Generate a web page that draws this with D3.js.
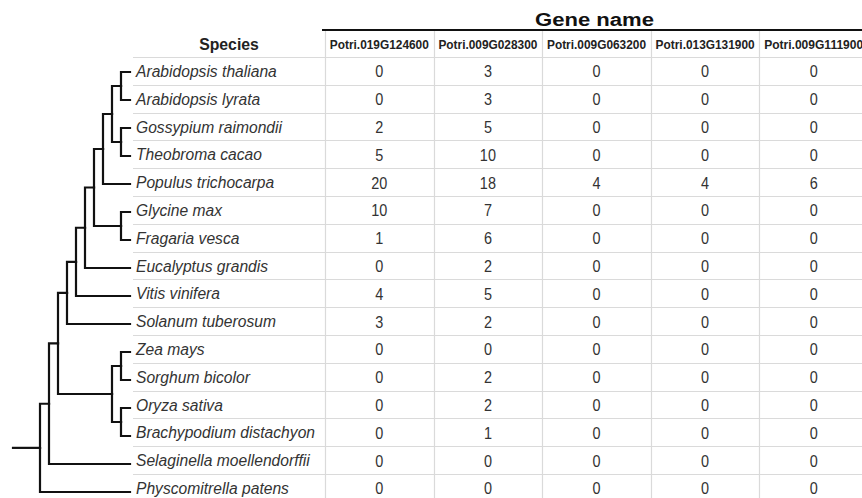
<!DOCTYPE html>
<html>
<head>
<meta charset="utf-8">
<script src="https://cdn.jsdelivr.net/npm/d3@7"></script>
<style>
  html, body { margin: 0; padding: 0; background: #fff; }
  svg { display: block; }
</style>
</head>
<body>
<svg id="chart" width="862" height="498"></svg>
<script>
// ---------------- DATA ----------------
const species = [
  "Arabidopsis thaliana", "Arabidopsis lyrata", "Gossypium raimondii", "Theobroma cacao",
  "Populus trichocarpa", "Glycine max", "Fragaria vesca", "Eucalyptus grandis",
  "Vitis vinifera", "Solanum tuberosum", "Zea mays", "Sorghum bicolor",
  "Oryza sativa", "Brachypodium distachyon", "Selaginella moellendorffii", "Physcomitrella patens"
];
const genes = ["Potri.019G124600", "Potri.009G028300", "Potri.009G063200", "Potri.013G131900", "Potri.009G111900"];
const counts019G124600 = [0, 0, 2, 5, 20, 10, 1, 0, 4, 3, 0, 0, 0, 0, 0, 0];
const counts009G028300 = [3, 3, 5, 10, 18, 7, 6, 2, 5, 2, 0, 2, 2, 1, 0, 0];
const counts009G063200 = [0, 0, 0, 0, 4, 0, 0, 0, 0, 0, 0, 0, 0, 0, 0, 0];
const counts013G131900 = [0, 0, 0, 0, 4, 0, 0, 0, 0, 0, 0, 0, 0, 0, 0, 0];
const counts009G111900 = [0, 0, 0, 0, 6, 0, 0, 0, 0, 0, 0, 0, 0, 0, 0, 0];
const geneCounts = [counts019G124600, counts009G028300, counts009G063200, counts013G131900, counts009G111900];
const titleText = "Gene name";
const speciesHeader = "Species";

// Tree topology (cladogram)
const rosids = [["Arabidopsis thaliana", "Arabidopsis lyrata"], ["Gossypium raimondii", "Theobroma cacao"]];
const monocots = [["Zea mays", "Sorghum bicolor"], ["Oryza sativa", "Brachypodium distachyon"]];
const treeTopology =
  [[[[[[[[rosids, "Populus trichocarpa"], ["Glycine max", "Fragaria vesca"]],
        "Eucalyptus grandis"], "Vitis vinifera"], "Solanum tuberosum"], monocots],
    "Selaginella moellendorffii"], "Physcomitrella patens"];

// ---------------- LAYOUT ----------------
const svg = d3.select("#chart");
const tableTop = 57;         // top of first data row
const rowH = 27.8;
const rowY = d3.scaleLinear().domain([0, species.length]).range([tableTop, tableTop + rowH * species.length]);
const colX = d3.scaleBand().domain(genes).range([325, 868]);
const lineLeft = 133;
const FONT = "Liberation Sans, Arial, sans-serif";
const grid = "#dadada";

// horizontal row lines
const hLines = d3.range(0, species.length);
svg.append("g").selectAll("line").data(hLines).join("line")
  .attr("x1", lineLeft).attr("x2", 862)
  .attr("y1", d => Math.round(rowY(d)) + 0.5).attr("y2", d => Math.round(rowY(d)) + 0.5)
  .attr("stroke", grid).attr("stroke-width", 1.2);

// vertical column separators
const vBounds = genes.map(g => colX(g));
svg.append("g").selectAll("line").data(vBounds).join("line")
  .attr("x1", d => Math.round(d) + 0.5).attr("x2", d => Math.round(d) + 0.5)
  .attr("y1", 31).attr("y2", 498)
  .attr("stroke", grid).attr("stroke-width", 1.2);

// Header: Gene name
svg.append("text")
  .attr("x", 594.5).attr("y", 26)
  .attr("text-anchor", "middle")
  .attr("font-family", FONT)
  .attr("font-weight", "bold").attr("font-size", 18)
  .attr("textLength", 119).attr("lengthAdjust", "spacingAndGlyphs")
  .attr("fill", "#111")
  .text(titleText);

// thick line under Gene name
svg.append("line")
  .attr("x1", 322).attr("x2", 862).attr("y1", 30).attr("y2", 30)
  .attr("stroke", "#111").attr("stroke-width", 2);

// Species header
svg.append("text")
  .attr("transform", "translate(229,50) scale(0.93,1)")
  .attr("text-anchor", "middle")
  .attr("font-family", FONT)
  .attr("font-weight", "bold").attr("font-size", 17)
  .attr("fill", "#222")
  .text(speciesHeader);

// Gene column headers
svg.append("g").selectAll("text").data(genes).join("text")
  .attr("x", d => colX(d) + colX.bandwidth() / 2)
  .attr("y", 49)
  .attr("text-anchor", "middle")
  .attr("font-family", FONT)
  .attr("font-weight", "bold").attr("font-size", 12)
  .attr("textLength", 99).attr("lengthAdjust", "spacingAndGlyphs")
  .attr("fill", "#222")
  .text(d => d);

// species names
svg.append("g").selectAll("text").data(species).join("text")
  .attr("transform", (d, i) => `translate(136,${rowY(i + 0.5) + 6}) scale(0.92,1)`)
  .attr("font-family", FONT)
  .attr("font-style", "italic").attr("font-size", 17)
  .attr("fill", "#333")
  .text(d => d);

// values
genes.forEach((g, gi) => {
  svg.append("g").selectAll("text").data(geneCounts[gi]).join("text")
    .attr("transform", (d, i) => `translate(${colX(g) + colX.bandwidth() / 2},${rowY(i + 0.5) + 6.5}) scale(0.85,1)`)
    .attr("text-anchor", "middle")
    .attr("font-family", FONT)
    .attr("font-size", 17)
    .attr("fill", "#333")
    .text(d => d);
});

// ---------------- TREE ----------------
const root = d3.hierarchy(treeTopology, d => Array.isArray(d) ? d : null);
const leafX = 130, step = 9;
const treeY = d3.scaleLinear().domain([0, species.length - 1]).range([72, 492]);
root.eachAfter(n => {
  if (!n.children) {
    n.ty = treeY(species.indexOf(n.data));
  } else {
    n.ty = d3.mean(n.children, c => c.ty);
  }
  n.tx = leafX - step * n.height;
});

const treeG = svg.append("g")
  .attr("fill", "none").attr("stroke", "#111").attr("stroke-width", 2.2)
  .attr("stroke-linecap", "square");

// elbow links
treeG.selectAll("path.link").data(root.links()).join("path")
  .attr("class", "link")
  .attr("d", l => `M${l.source.tx},${l.source.ty}V${l.target.ty}H${l.target.tx}`);

// root stub
treeG.append("path")
  .attr("d", `M13,${root.ty}H${root.tx}`);
</script>
</body>
</html>
